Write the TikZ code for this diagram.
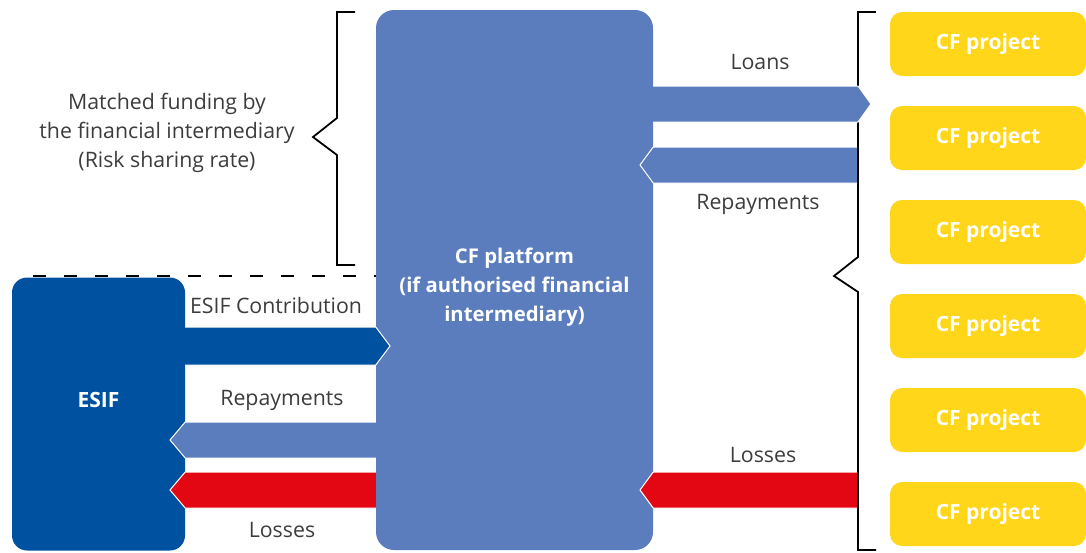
\documentclass[tikz,border=0pt]{standalone}
\usepackage{fontspec}
\setmainfont{Open Sans}
\usetikzlibrary{positioning}
\definecolor{platblue}{HTML}{5B7DBE}
\definecolor{esifblue}{HTML}{0052A0}
\definecolor{cfyellow}{HTML}{FFD61A}
\definecolor{lossred}{HTML}{E30613}
\definecolor{textgray}{HTML}{3C3C3B}
\tikzstyle{platbox} = [fill=platblue, rounded corners=18pt, minimum width=277pt, minimum height=540pt, inner sep=0pt]
\tikzstyle{esifbox} = [fill=esifblue, rounded corners=15pt, minimum width=173pt, minimum height=273pt, inner sep=0pt]
\tikzstyle{project} = [fill=cfyellow, rounded corners=12pt, minimum width=196pt, minimum height=64pt, text=white, font=\fontsize{21}{25}\selectfont\bfseries]
\tikzstyle{whitetext} = [text=white, align=center, font=\fontsize{20.3}{29}\selectfont\bfseries]
\tikzstyle{flowlabel} = [text=textgray, align=center, font=\fontsize{21.3}{29}\selectfont]
\tikzstyle{brace} = [draw=black, line width=1.8pt]
\tikzstyle{flow} = [draw=white, line width=1pt, line join=miter]

\begin{document}
\begin{tikzpicture}[x=1pt, y=-1pt]
	\useasboundingbox (0,0) rectangle (1086,552);
	% boxes
	\node [platbox] (platform) at (514.5,280) {};
	\node [whitetext] (platlabel) at (514.5,287) {CF platform\\(if authorised financial\\intermediary)};
	\draw [dash pattern=on 13pt off 18pt, line width=1.3pt] (33,276) -- (platform.west |- 0,276);
	\node [esifbox] (esif) at (98.5,414) {};
	\node [whitetext, font=\fontsize{21}{25}\selectfont\bfseries] (esiflabel) at (98.5,400) {ESIF};
	\foreach \i in {1,...,6} {
		\node [project] (p\i) at (988,{44+94*(\i-1)}) {CF project};
	}
	% braces
	\draw [brace] (355,12) -- (337,12) -- (337,118) -- (313,137) -- (337,155) -- (337,265) -- (355,265);
	\draw [brace] (p1.west |- 0,12) ++(-14,0) -- (858,12) -- (858,257) -- (834,276) -- (858,292) -- (858,550) -- ++(18,0);
	\node [flowlabel] (matched) at (167,133) {Matched funding by\\the financial intermediary\\(Risk sharing rate)};
	% flows platform - projects
	\path [flow, fill=platblue] (platform.east |- 0,86) -- (858,86) -- (871,104) -- (858,122) -- (platform.east |- 0,122);
	\path [flow, fill=platblue] (857,147) -- (platform.east |- 0,147) -- (640,165) -- (platform.east |- 0,183) -- (857,183);
	\path [flow, fill=lossred] (857,472) -- (platform.east |- 0,472) -- (640,490) -- (platform.east |- 0,508) -- (857,508);
	\node [flowlabel] (loans) at (760,62) {Loans};
	\node [flowlabel] (repay1) at (758,204) {Repayments};
	\node [flowlabel] (loss1) at (763,455) {Losses};
	% flows ESIF - platform
	\path [flow, fill=esifblue] (esif.east |- 0,327) -- (platform.west |- 0,327) -- (390,346) -- (platform.west |- 0,365) -- (esif.east |- 0,365);
	\path [flow, fill=platblue] (platform.west |- 0,422) -- (esif.east |- 0,422) -- (170,440) -- (esif.east |- 0,458) -- (platform.west |- 0,458);
	\path [flow, fill=lossred] (platform.west |- 0,472) -- (esif.east |- 0,472) -- (170,490) -- (esif.east |- 0,508) -- (platform.west |- 0,508);
	\node [flowlabel] (contrib) at (276,306) {ESIF Contribution};
	\node [flowlabel] (repay2) at (282,400) {Repayments};
	\node [flowlabel] (loss2) at (282,530) {Losses};
\end{tikzpicture}
\end{document}
